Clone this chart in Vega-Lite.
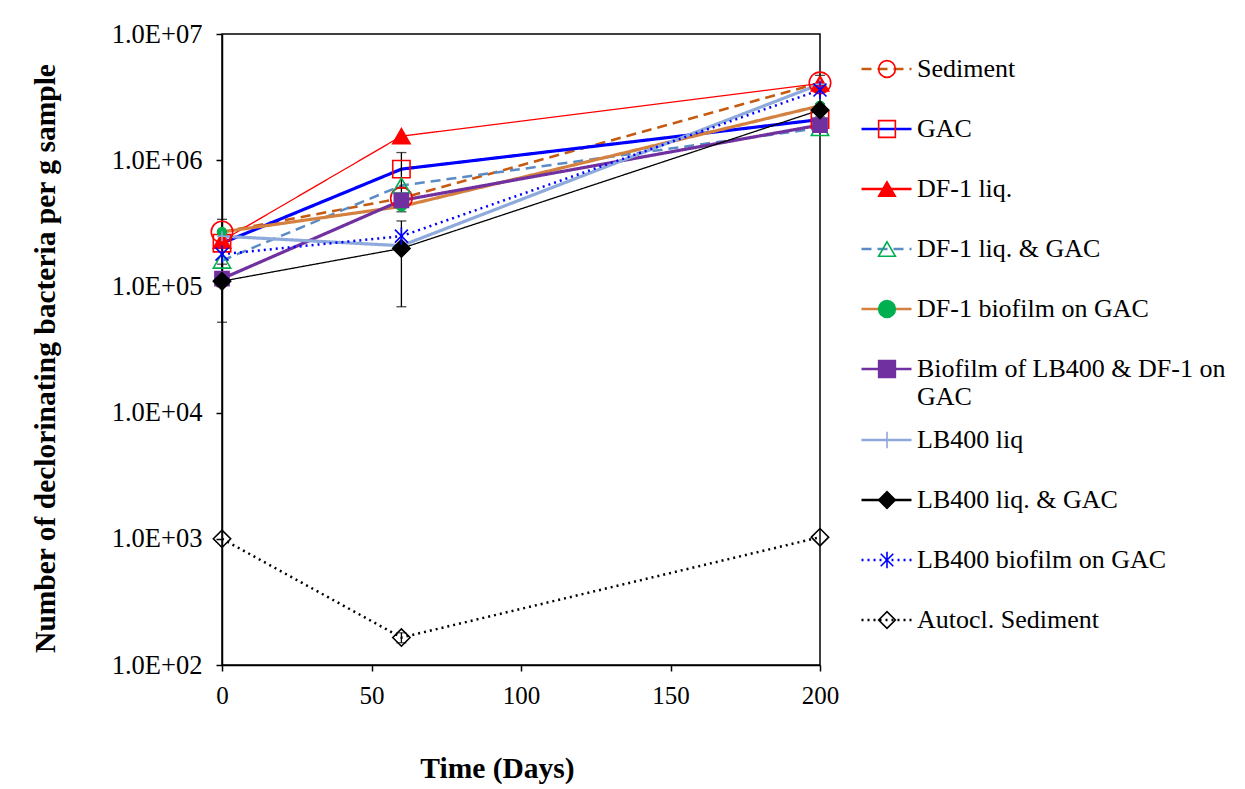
{
  "$schema": "https://vega.github.io/schema/vega-lite/v6.json",
  "autosize": "none",
  "width": 598,
  "height": 631,
  "padding": {"left": 222, "top": 34, "right": 425, "bottom": 124},
  "background": "white",
  "config": {
    "view": {"stroke": "black", "strokeWidth": 1.5},
    "font": "Liberation Serif",
    "axis": {"grid": false, "domainColor": "black", "domainWidth": 1.5, "tickColor": "black", "tickWidth": 1.5, "tickSize": 6, "labelFont": "Liberation Serif", "labelFontSize": 25, "labelColor": "black", "titleFont": "Liberation Serif", "titleFontWeight": "bold", "titleColor": "black"}
  },
  "datasets": {
    "counts": [
      {"series": "Sediment", "day": 0, "value": 270000},
      {"series": "Sediment", "day": 60, "value": 500000},
      {"series": "Sediment", "day": 200, "value": 4100000},
      {"series": "GAC", "day": 0, "value": 220000},
      {"series": "GAC", "day": 60, "value": 850000},
      {"series": "GAC", "day": 200, "value": 2100000},
      {"series": "DF-1 liq.", "day": 0, "value": 230000},
      {"series": "DF-1 liq.", "day": 60, "value": 1550000},
      {"series": "DF-1 liq.", "day": 200, "value": 4050000},
      {"series": "DF-1 liq. & GAC", "day": 0, "value": 160000},
      {"series": "DF-1 liq. & GAC", "day": 60, "value": 630000},
      {"series": "DF-1 liq. & GAC", "day": 200, "value": 1800000},
      {"series": "DF-1 biofilm on GAC", "day": 0, "value": 270000},
      {"series": "DF-1 biofilm on GAC", "day": 60, "value": 430000},
      {"series": "DF-1 biofilm on GAC", "day": 200, "value": 2700000},
      {"series": "Biofilm of LB400  & DF-1 on GAC", "day": 0, "value": 115000},
      {"series": "Biofilm of LB400  & DF-1 on GAC", "day": 60, "value": 480000},
      {"series": "Biofilm of LB400  & DF-1 on GAC", "day": 200, "value": 1900000},
      {"series": "LB400 liq", "day": 0, "value": 250000},
      {"series": "LB400 liq", "day": 60, "value": 210000},
      {"series": "LB400 liq", "day": 200, "value": 4000000},
      {"series": "LB400 liq. & GAC", "day": 0, "value": 110000},
      {"series": "LB400 liq. & GAC", "day": 60, "value": 200000},
      {"series": "LB400 liq. & GAC", "day": 200, "value": 2500000},
      {"series": "LB400 biofilm on GAC", "day": 0, "value": 180000},
      {"series": "LB400 biofilm on GAC", "day": 60, "value": 250000},
      {"series": "LB400 biofilm on GAC", "day": 200, "value": 3600000},
      {"series": "Autocl. Sediment", "day": 0, "value": 1000},
      {"series": "Autocl. Sediment", "day": 60, "value": 165},
      {"series": "Autocl. Sediment", "day": 200, "value": 1030}
    ],
    "errors": [
      {"series": "Sediment", "day": 0, "lo": 200000, "hi": 340000},
      {"series": "LB400 liq. & GAC", "day": 0, "lo": 52000, "hi": 150000},
      {"series": "GAC", "day": 60, "lo": 610000, "hi": 1150000},
      {"series": "DF-1 biofilm on GAC", "day": 60, "lo": 390000, "hi": 600000},
      {"series": "LB400 liq. & GAC", "day": 60, "lo": 69000, "hi": 330000},
      {"series": "Autocl. Sediment", "day": 60, "lo": 150, "hi": 180},
      {"series": "Sediment", "day": 200, "lo": 3500000, "hi": 4700000},
      {"series": "LB400 liq. & GAC", "day": 200, "lo": 2200000, "hi": 2800000}
    ]
  },
  "layer": [
    {
      "data": {"name": "counts"},
      "mark": {"type": "line", "clip": true},
      "encoding": {
        "x": {"field": "day", "type": "quantitative", "scale": {"domain": [0, 200], "nice": false}, "axis": {"values": [0, 50, 100, 150, 200], "labelFlush": false, "labelFontSize": 25, "labelPadding": 12, "title": "Time (Days)", "titleFontSize": 29.5, "titleX": 275, "titleY": 103, "titleBaseline": "middle"}},
        "y": {"field": "value", "type": "quantitative", "title": "Number of declorinating bacteria per g sample", "scale": {"type": "log", "domain": [100, 10000000], "nice": false}, "axis": {"values": [100, 1000, 10000, 100000, 1000000, 10000000], "labelExpr": "'1.0E+0' + round(log(datum.value)/LN10)", "labelFontSize": 26.5, "labelPadding": 14, "titleFontSize": 29.5, "titleAngle": -90, "titleX": -177, "titleY": 324, "titleAlign": "center", "titleBaseline": "middle"}},
        "color": {"field": "series", "type": "nominal",
          "scale": {"domain": ["Sediment", "GAC", "DF-1 liq.", "DF-1 liq. & GAC", "DF-1 biofilm on GAC", "Biofilm of LB400  & DF-1 on GAC", "LB400 liq", "LB400 liq. & GAC", "LB400 biofilm on GAC", "Autocl. Sediment"],
            "range": ["#C55A11", "#0000FF", "#FF0000", "#5B8BC5", "#D4803F", "#7030A0", "#8EA9DB", "#000000", "#0000FF", "#000000"]},
          "legend": {"orient": "none", "legendX": 638, "legendY": 5, "title": null, "padding": 0, "symbolType": "M-1,0H1", "symbolSize": 2500, "symbolStrokeWidth": 2.5, "labelFont": "Liberation Serif", "labelFontSize": 26, "labelColor": "black", "labelOffset": 4, "labelLimit": 400, "clipHeight": 60, "rowPadding": 0,
            "labelExpr": "datum.label === 'Biofilm of LB400  & DF-1 on GAC' ? ['Biofilm of LB400  & DF-1 on', 'GAC'] : datum.label"}},
        "strokeDash": {"field": "series", "type": "nominal",
          "scale": {"domain": ["Sediment", "GAC", "DF-1 liq.", "DF-1 liq. & GAC", "DF-1 biofilm on GAC", "Biofilm of LB400  & DF-1 on GAC", "LB400 liq", "LB400 liq. & GAC", "LB400 biofilm on GAC", "Autocl. Sediment"],
            "range": [[10, 6], [1, 0], [1, 0], [10, 6], [1, 0], [1, 0], [1, 0], [1, 0], [2, 4], [2, 4]]},
          "legend": {"orient": "none", "legendX": 638, "legendY": 5, "title": null, "padding": 0, "symbolType": "M-1,0H1", "symbolSize": 2500, "symbolStrokeWidth": 2.5, "labelFont": "Liberation Serif", "labelFontSize": 26, "labelColor": "black", "labelOffset": 4, "labelLimit": 400, "clipHeight": 60, "rowPadding": 0}},
        "strokeWidth": {"condition": [
          {"test": "datum.series === 'DF-1 liq.' || datum.series === 'LB400 liq. & GAC'", "value": 1.3},
          {"test": "datum.series === 'GAC' || datum.series === 'DF-1 biofilm on GAC' || datum.series === 'LB400 liq' || datum.series === 'Biofilm of LB400  & DF-1 on GAC'", "value": 3.2}
        ], "value": 2.5}
      }
    },
    {
      "data": {"name": "errors"},
      "mark": {"type": "errorbar", "ticks": {"size": 10}, "color": "black", "thickness": 1.3},
      "encoding": {
        "x": {"field": "day", "type": "quantitative"},
        "y": {"field": "lo", "type": "quantitative", "title": "Number of declorinating bacteria per g sample"},
        "y2": {"field": "hi"}
      }
    },
    {
      "data": {"name": "counts"},
      "mark": {"type": "point", "strokeWidth": 1.6, "opacity": 1},
      "encoding": {
        "x": {"field": "day", "type": "quantitative"},
        "y": {"field": "value", "type": "quantitative", "title": "Number of declorinating bacteria per g sample"},
        "shape": {"field": "series", "type": "nominal", "sort": null,
          "scale": {"range": ["circle", "square", "triangle-up", "triangle-up", "circle", "square", "M0,-1V1M-1,0H1", "diamond", "M-0.75,-0.75L0.75,0.75M-0.75,0.75L0.75,-0.75M0,-1V1", "diamond"]},
          "legend": {"orient": "none", "legendX": 652, "legendY": 5, "title": null, "padding": 0, "labelFont": "Liberation Serif", "labelFontSize": 26, "labelOpacity": 0, "labelOffset": 4, "labelLimit": 400, "clipHeight": 60, "rowPadding": 0, "symbolStrokeWidth": 1.6, "symbolSize": 280,
            "labelExpr": "datum.label === 'Biofilm of LB400  & DF-1 on GAC' ? ['Biofilm of LB400  & DF-1 on', 'GAC'] : datum.label"}},
        "fill": {"field": "series", "type": "nominal", "sort": null,
          "scale": {"range": ["transparent", "transparent", "#FF0000", "transparent", "#00B050", "#7030A0", "transparent", "#000000", "transparent", "transparent"]},
          "legend": {"orient": "none", "legendX": 652, "legendY": 5, "title": null, "padding": 0, "labelFont": "Liberation Serif", "labelFontSize": 26, "labelOpacity": 0, "labelOffset": 4, "labelLimit": 400, "clipHeight": 60, "rowPadding": 0, "symbolStrokeWidth": 1.6, "symbolSize": 280}},
        "stroke": {"field": "series", "type": "nominal", "sort": null,
          "scale": {"range": ["#FF0000", "#FF0000", "#FF0000", "#00B050", "#00B050", "#7030A0", "#8EA9DB", "#000000", "#0000FF", "#000000"]},
          "legend": {"orient": "none", "legendX": 652, "legendY": 5, "title": null, "padding": 0, "labelFont": "Liberation Serif", "labelFontSize": 26, "labelOpacity": 0, "labelOffset": 4, "labelLimit": 400, "clipHeight": 60, "rowPadding": 0, "symbolStrokeWidth": 1.6, "symbolSize": 280}},
        "size": {"condition": [
          {"test": "datum.series === 'Sediment'", "value": 460},
          {"test": "datum.series === 'DF-1 biofilm on GAC'", "value": 80},
          {"test": "datum.series === 'Biofilm of LB400  & DF-1 on GAC'", "value": 200},
          {"test": "datum.series === 'LB400 liq'", "value": 100}
        ], "value": 300}
      }
    }
  ]
}
